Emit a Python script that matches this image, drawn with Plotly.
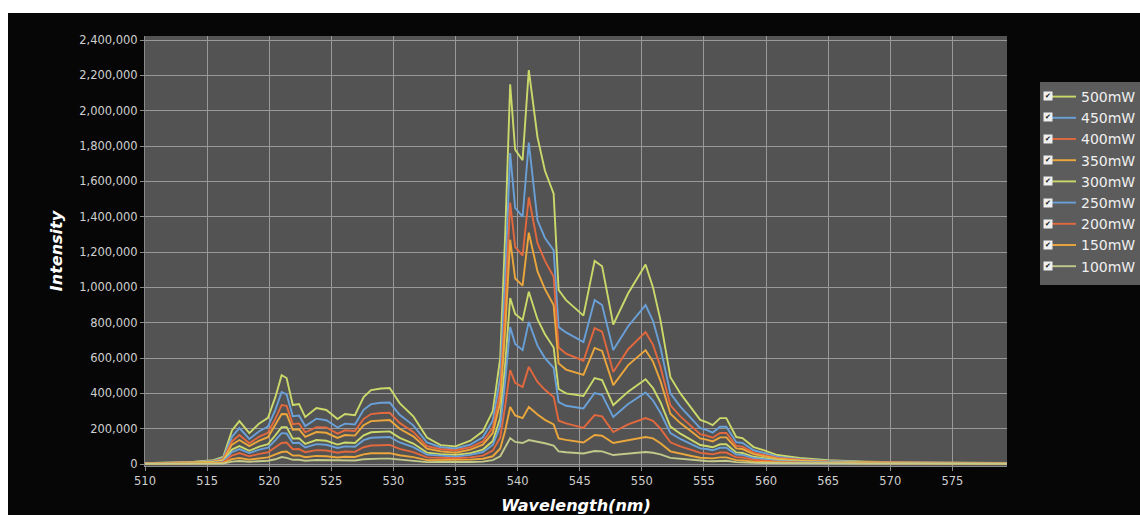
import plotly.graph_objects as go

# Wavelength sample points (nm)
wavelength = [510, 512, 514, 515.5, 516.3, 517.0, 517.6, 518.4, 519.2, 519.9,
              520.5, 521.0, 521.4, 521.9, 522.4, 522.9, 523.8, 524.6, 525.5, 526.1,
              526.9, 527.6, 528.2, 529.0, 529.7, 530.5, 531.6, 532.7, 533.8, 535.0,
              536.2, 537.2, 538.0, 538.6, 539.0, 539.4, 539.8, 540.4, 540.9, 541.6,
              542.2, 542.9, 543.3, 543.9, 545.3, 546.2, 546.8, 547.7, 548.9, 550.3,
              550.9, 551.5, 552.3, 553.1, 554.1, 554.7, 555.2, 555.7, 556.3, 556.8,
              557.6, 558.1, 559.0, 559.8, 560.9, 562.7, 565, 568, 572, 576, 579.5]

# Intensity per laser power, in thousands of counts
p500 = [5, 8, 14, 22, 40, 190, 243, 175, 230, 262,
        380, 503, 487, 334, 340, 266, 317, 306, 255, 283,
        277, 379, 419, 428, 430, 345, 270, 150, 107, 100,
        132, 185, 300, 600, 1300, 2150, 1780, 1720, 2230, 1850,
        1660, 1530, 985, 928, 840, 1150, 1120, 790, 967, 1130,
        1000, 815, 492, 400, 306, 250, 238, 220, 260, 260,
        153, 147, 96, 79, 51, 34, 22, 14, 9, 7, 6]
p450 = [4, 7, 12, 18, 33, 154, 204, 142, 186, 212,
        308, 407, 394, 271, 275, 215, 257, 248, 207, 229,
        224, 307, 339, 347, 348, 279, 219, 122, 95, 88,
        110, 152, 245, 490, 1060, 1760, 1450, 1400, 1820, 1380,
        1280, 1210, 775, 745, 690, 928, 900, 645, 780, 900,
        810, 660, 400, 325, 248, 203, 193, 178, 211, 211,
        124, 119, 78, 64, 42, 28, 18, 12, 8, 6, 5]
p400 = [4, 6, 10, 15, 27, 128, 164, 118, 155, 177,
        257, 334, 329, 225, 230, 180, 209, 207, 172, 191,
        187, 256, 283, 289, 290, 233, 182, 101, 84, 78,
        95, 128, 205, 410, 890, 1480, 1230, 1180, 1510, 1250,
        1150, 1060, 660, 625, 585, 770, 750, 521, 650, 747,
        675, 550, 332, 270, 207, 169, 161, 149, 176, 176,
        103, 99, 65, 53, 35, 24, 15, 10, 7, 6, 5]
p350 = [3, 5, 9, 13, 23, 110, 136, 102, 133, 152,
        220, 283, 282, 194, 197, 154, 181, 177, 148, 164,
        161, 220, 243, 248, 249, 200, 157, 87, 72, 64,
        82, 110, 176, 350, 760, 1270, 1050, 1010, 1310, 1090,
        990, 900, 570, 535, 505, 657, 640, 447, 560, 645,
        580, 470, 285, 232, 178, 145, 138, 128, 151, 151,
        89, 85, 56, 46, 30, 20, 13, 9, 6, 5, 4]
p300 = [3, 4, 7, 10, 17, 82, 102, 75, 99, 113,
        163, 209, 209, 144, 146, 114, 136, 132, 110, 122,
        119, 163, 180, 184, 185, 148, 116, 65, 56, 52,
        62, 82, 130, 260, 565, 940, 850, 815, 975, 820,
        735, 660, 425, 400, 385, 487, 475, 334, 410, 480,
        430, 350, 212, 172, 132, 108, 102, 95, 112, 112,
        66, 63, 41, 34, 22, 15, 10, 7, 5, 4, 4]
p250 = [3, 4, 6, 8, 14, 67, 85, 62, 82, 93,
        135, 175, 173, 119, 121, 94, 113, 109, 91, 100,
        98, 135, 149, 152, 153, 122, 96, 53, 47, 42,
        52, 68, 108, 215, 470, 775, 680, 645, 805, 670,
        600, 545, 350, 330, 315, 402, 392, 266, 340, 405,
        360, 290, 175, 142, 109, 89, 85, 78, 92, 92,
        54, 52, 34, 28, 18, 12, 9, 6, 5, 4, 3]
p200 = [3, 3, 5, 6, 10, 48, 62, 44, 58, 66,
        95, 119, 122, 84, 85, 67, 79, 77, 64, 71,
        69, 95, 105, 107, 108, 86, 68, 38, 35, 33,
        38, 48, 76, 150, 330, 532, 460, 436, 550, 465,
        420, 380, 245, 230, 205, 277, 270, 181, 225, 260,
        245, 200, 123, 100, 77, 63, 60, 55, 65, 65,
        38, 37, 24, 20, 13, 9, 7, 5, 4, 3, 3]
p150 = [2, 3, 4, 5, 6, 28, 34, 25, 33, 38,
        55, 68, 71, 48, 49, 39, 46, 44, 37, 41,
        40, 55, 61, 62, 62, 50, 39, 22, 23, 22,
        25, 30, 44, 88, 190, 323, 275, 260, 323, 280,
        250, 225, 145, 137, 122, 164, 160, 119, 135, 153,
        145, 118, 72, 58, 44, 36, 35, 32, 38, 38,
        22, 21, 14, 12, 8, 6, 5, 4, 3, 3, 2]
p100 = [2, 2, 3, 3, 3, 14, 17, 13, 17, 19,
        27, 40, 35, 24, 24, 19, 23, 22, 18, 20,
        20, 27, 30, 31, 31, 25, 19, 11, 12, 11,
        12, 14, 22, 44, 95, 147, 125, 119, 136, 128,
        118, 105, 72, 67, 60, 74, 72, 51, 60, 68,
        64, 55, 35, 29, 22, 18, 17, 16, 19, 19,
        11, 11, 7, 6, 5, 4, 4, 3, 3, 2, 2]

series_names = ["500mW", "450mW", "400mW", "350mW", "300mW",
                "250mW", "200mW", "150mW", "100mW"]
series_values = [p500, p450, p400, p350, p300, p250, p200, p150, p100]

x_ticks = [510, 515, 520, 525, 530, 535, 540, 545, 550, 555, 560, 565, 570, 575]
y_ticks = [0, 200000, 400000, 600000, 800000, 1000000, 1200000,
           1400000, 1600000, 1800000, 2000000, 2200000, 2400000]

GREEN = "#cbd96b"
BLUE = "#6aa0d8"
RED = "#e2683e"
GOLD = "#eba73c"
line_colors = [GREEN, BLUE, RED, GOLD, GREEN, BLUE, RED, GOLD, "#c2c98a"]

fig = go.Figure()
for name, vals, col in zip(series_names, series_values, line_colors):
    fig.add_trace(go.Scatter(
        x=wavelength,
        y=[v * 1000 for v in vals],
        mode="lines",
        name=name,
        line=dict(color=col, width=1.9),
    ))

# Layout geometry (pixels)
W, H = 1140, 515
ML, MR, MT, MB = 145, 133, 36, 49
pw = W - ML - MR
ph = H - MT - MB


def px_to_paper_x(px):
    return (px - ML) / pw


def px_to_paper_y(py):
    return (H - MB - py) / ph


shapes = [
    # dark frame of the chart window
    dict(type="rect", xref="paper", yref="paper", layer="below",
         x0=px_to_paper_x(8), x1=px_to_paper_x(W + 2),
         y0=px_to_paper_y(H + 2), y1=px_to_paper_y(13),
         fillcolor="#060606", line=dict(width=0)),
    # plotting area
    dict(type="rect", xref="paper", yref="paper", layer="below",
         x0=0, x1=1, y0=0, y1=1,
         fillcolor="#535353", line=dict(width=0)),
    # legend panel
    dict(type="rect", xref="paper", yref="paper", layer="below",
         x0=px_to_paper_x(1040), x1=px_to_paper_x(W + 2),
         y0=px_to_paper_y(285), y1=px_to_paper_y(82),
         fillcolor="#5c5c5c", line=dict(width=0)),
]

# checkbox marks beside each legend entry
legend_rows = [96 + 21.3 * i for i in range(9)]
annotations = [
    dict(xref="paper", yref="paper",
         x=px_to_paper_x(1048), y=px_to_paper_y(r),
         xanchor="center", yanchor="middle",
         text="✔", showarrow=False,
         font=dict(family="DejaVu Sans", size=7, color="#111111"),
         bgcolor="#eeeeee", width=8, height=8, borderpad=0)
    for r in legend_rows
]

fig.update_layout(
    width=W, height=H,
    margin=dict(l=ML, r=MR, t=MT, b=MB, autoexpand=False),
    paper_bgcolor="#ffffff",
    plot_bgcolor="#535353",
    shapes=shapes,
    annotations=annotations,
    font=dict(family="DejaVu Sans", color="#d0d0d0", size=11),
    showlegend=True,
    legend=dict(
        x=px_to_paper_x(1041), y=px_to_paper_y(81),
        xanchor="left", yanchor="top",
        bgcolor="rgba(0,0,0,0)",
        borderwidth=0,
        font=dict(family="DejaVu Sans", size=14, color="#f0f0f0"),
        itemwidth=30,
        tracegroupgap=0,
    ),
    xaxis=dict(
        range=[510, 579.4],
        tickvals=x_ticks,
        ticktext=[str(t) for t in x_ticks],
        showgrid=True, gridcolor="#999999", gridwidth=1,
        zeroline=False, automargin=False,
        showline=True, linecolor="#8a8a8a", linewidth=1,
        ticks="outside", ticklen=4, tickcolor="#8a8a8a",
        tickfont=dict(size=11.5, color="#d0d0d0"),
        title=dict(text="<b><i>Wavelength(nm)</i></b>",
                   font=dict(family="DejaVu Sans", size=16, color="#ffffff"),
                   standoff=16),
    ),
    yaxis=dict(
        range=[-11000, 2423000],
        tickvals=y_ticks,
        tickformat=",d",
        showgrid=True, gridcolor="#999999", gridwidth=1,
        zeroline=False, automargin=False,
        showline=True, linecolor="#8a8a8a", linewidth=1,
        ticks="outside", ticklen=4, tickcolor="#8a8a8a",
        tickfont=dict(size=11.5, color="#d0d0d0"),
        title=dict(text="<b><i>Intensity</i></b>",
                   font=dict(family="DejaVu Sans", size=16, color="#ffffff"),
                   standoff=12),
    ),
)

fig.write_html("out.html")
